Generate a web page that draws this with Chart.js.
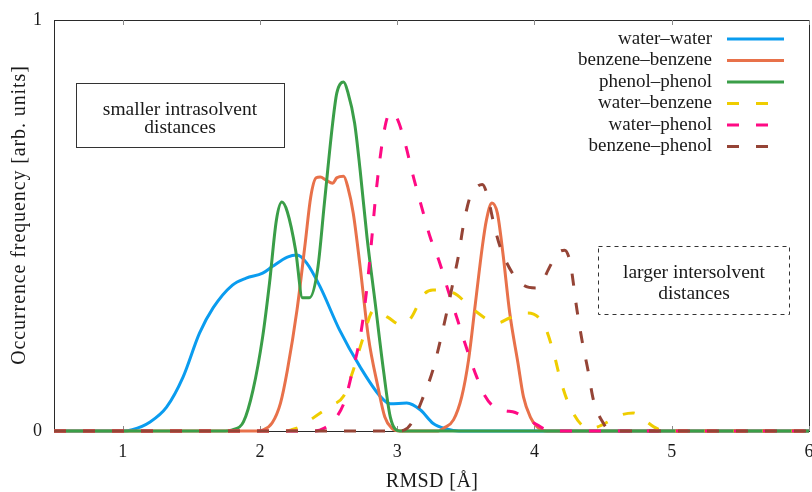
<!DOCTYPE html>
<html>
<head>
<meta charset="utf-8">
<script src="https://cdn.jsdelivr.net/npm/chart.js@4.4.1/dist/chart.umd.min.js"></script>
<style>
  html, body { margin: 0; padding: 0; background: #fff; }
  #wrap { width: 812px; height: 492px; }
</style>
</head>
<body>
<div id="wrap"><canvas id="rmsd"></canvas></div>
<script>
// RMSD distributions (x in Å, y in arbitrary units)
const rmsdWW = [0.5, 1.0, 1.07, 1.2, 1.32, 1.44, 1.56, 1.66, 1.8, 1.9, 2.02, 2.09, 2.2, 2.27, 2.34, 2.44, 2.58, 2.73, 2.88, 2.95, 3.07, 3.17, 3.26, 3.36, 3.45, 6];
const freqWW = [0, 0, 0.003, 0.022, 0.058, 0.131, 0.238, 0.3, 0.355, 0.372, 0.384, 0.4, 0.423, 0.428, 0.409, 0.35, 0.246, 0.156, 0.083, 0.066, 0.068, 0.051, 0.019, 0.005, 0, 0];

const rmsdBB = [0.5, 1.98, 2.02, 2.09, 2.15, 2.2, 2.27, 2.33, 2.37, 2.41, 2.44, 2.48, 2.53, 2.56, 2.61, 2.64, 2.68, 2.73, 2.79, 2.86, 2.91, 2.96, 3.02, 3.3, 3.34, 3.41, 3.47, 3.52, 3.57, 3.62, 3.65, 3.69, 3.73, 3.77, 3.82, 3.88, 3.92, 3.97, 4.02, 4.09, 6];
const freqBB = [0, 0, 0.002, 0.02, 0.068, 0.148, 0.294, 0.457, 0.569, 0.616, 0.618, 0.611, 0.603, 0.616, 0.62, 0.594, 0.53, 0.4, 0.229, 0.107, 0.034, 0.007, 0, 0, 0.007, 0.027, 0.083, 0.173, 0.311, 0.448, 0.513, 0.555, 0.53, 0.433, 0.287, 0.165, 0.083, 0.034, 0.01, 0, 0];

const rmsdPP = [0.5, 1.75, 1.8, 1.88, 1.95, 2.02, 2.07, 2.12, 2.16, 2.2, 2.26, 2.31, 2.36, 2.42, 2.47, 2.53, 2.56, 2.61, 2.64, 2.69, 2.73, 2.78, 2.84, 2.9, 2.95, 3.02, 6];
const freqPP = [0, 0, 0.003, 0.022, 0.1, 0.229, 0.36, 0.513, 0.557, 0.533, 0.44, 0.324, 0.324, 0.392, 0.555, 0.749, 0.822, 0.849, 0.825, 0.749, 0.635, 0.472, 0.311, 0.148, 0.034, 0, 0];

const rmsdWB = [0.5, 2.18, 2.23, 2.29, 2.44, 2.53, 2.61, 2.68, 2.75, 2.83, 2.93, 3.03, 3.1, 3.19, 3.26, 3.41, 3.56, 3.73, 3.82, 3.95, 4.07, 4.14, 4.19, 4.26, 4.39, 4.46, 4.55, 4.63, 4.72, 4.8, 4.87, 4.95, 6];
const freqWB = [0, 0, 0.003, 0.01, 0.044, 0.063, 0.085, 0.148, 0.225, 0.294, 0.277, 0.258, 0.275, 0.331, 0.343, 0.336, 0.294, 0.263, 0.275, 0.287, 0.258, 0.19, 0.124, 0.058, 0.007, 0.01, 0.025, 0.039, 0.044, 0.027, 0.01, 0, 0];

const rmsdWP = [0.5, 2.4, 2.47, 2.55, 2.62, 2.67, 2.72, 2.75, 2.78, 2.81, 2.84, 2.87, 2.9, 2.93, 2.96, 3.0, 3.05, 3.12, 3.18, 3.24, 3.31, 3.37, 3.44, 3.51, 3.58, 3.64, 3.7, 3.78, 3.86, 3.93, 4.02, 4.09, 4.15, 6];
const freqWP = [0, 0, 0.007, 0.03, 0.075, 0.14, 0.21, 0.27, 0.35, 0.45, 0.56, 0.65, 0.72, 0.765, 0.776, 0.76, 0.71, 0.616, 0.543, 0.472, 0.409, 0.343, 0.27, 0.197, 0.131, 0.085, 0.06, 0.05, 0.045, 0.032, 0.015, 0.002, 0, 0];

const rmsdBP = [0.5, 3.0, 3.05, 3.11, 3.19, 3.26, 3.31, 3.36, 3.41, 3.45, 3.48, 3.53, 3.58, 3.62, 3.66, 3.7, 3.75, 3.84, 3.92, 4.01, 4.06, 4.1, 4.17, 4.22, 4.26, 4.31, 4.35, 4.39, 4.43, 4.5, 4.55, 6];
const freqBP = [0, 0, 0.002, 0.022, 0.083, 0.148, 0.214, 0.287, 0.367, 0.433, 0.496, 0.569, 0.594, 0.6, 0.57, 0.51, 0.448, 0.384, 0.355, 0.348, 0.365, 0.392, 0.433, 0.44, 0.41, 0.294, 0.214, 0.148, 0.075, 0.02, 0, 0];

const seriesNames = ['water–water', 'benzene–benzene', 'phenol–phenol', 'water–benzene', 'water–phenol', 'benzene–phenol'];
const xTicks = [1, 2, 3, 4, 5, 6];
const yTicks = [0, 1];

const serif = "'Liberation Serif', 'Times New Roman', serif";
const colors = ['#0a9cef', '#e8714a', '#3a9e48', '#efcd00', '#ff0a84', '#954436'];
const dash = [12, 17];

const pairs = [[rmsdWW, freqWW], [rmsdBB, freqBB], [rmsdPP, freqPP], [rmsdWB, freqWB], [rmsdWP, freqWP], [rmsdBP, freqBP]];

const datasets = pairs.map(([xs, ys], i) => ({
  label: seriesNames[i],
  data: xs.map((x, k) => ({ x: x, y: ys[k] })),
  borderColor: colors[i],
  borderWidth: 3,
  borderDash: i >= 3 ? dash : [],
  pointRadius: 0,
  fill: false,
  cubicInterpolationMode: 'monotone',
  clip: false,
  order: 6 - i,
}));

// frame, inner ticks, legend, notes and axis titles
const decorations = {
  id: 'decorations',
  beforeDatasetsDraw(chart) {
    const { ctx, chartArea: a, scales } = chart;
    ctx.save();
    ctx.strokeStyle = '#2a2a2a';
    ctx.lineWidth = 1;
    ctx.strokeRect(a.left + 0.5, a.top + 0.5, a.right - a.left, a.bottom - a.top);
    ctx.strokeStyle = '#8a8a8a';
    xTicks.forEach((v) => {
      const px = Math.round(scales.x.getPixelForValue(v)) + 0.5;
      ctx.beginPath();
      ctx.moveTo(px, a.bottom);
      ctx.lineTo(px, a.bottom - 5);
      ctx.moveTo(px, a.top);
      ctx.lineTo(px, a.top + 5);
      ctx.stroke();
    });
    ctx.restore();
  },
  afterDraw(chart) {
    const { ctx } = chart;
    ctx.save();
    ctx.fillStyle = '#1a1a1a';
    ctx.font = '19px ' + serif;
    ctx.textBaseline = 'middle';

    // legend
    seriesNames.forEach((name, i) => {
      const y = 39 + i * 21.5;
      ctx.textAlign = 'right';
      ctx.fillStyle = '#1a1a1a';
      ctx.fillText(name, 712, y);
      ctx.strokeStyle = colors[i];
      ctx.lineWidth = 3;
      ctx.setLineDash(i >= 3 ? dash : []);
      ctx.beginPath();
      ctx.moveTo(727, y);
      ctx.lineTo(784, y);
      ctx.stroke();
    });
    ctx.setLineDash([]);

    // boxed notes
    ctx.strokeStyle = '#333';
    ctx.lineWidth = 1;
    ctx.strokeRect(76.5, 83.5, 208, 64);
    ctx.setLineDash([4, 4]);
    ctx.strokeRect(598.5, 246.5, 191, 68);
    ctx.setLineDash([]);
    ctx.textAlign = 'center';
    ctx.fillStyle = '#1a1a1a';
    ctx.font = '19.5px ' + serif;
    ctx.fillText('smaller intrasolvent', 180, 110);
    ctx.fillText('distances', 180, 128);
    ctx.fillText('larger intersolvent', 694, 273);
    ctx.fillText('distances', 694, 294);

    // axis titles
    ctx.font = '20px ' + serif;
    ctx.letterSpacing = '0.4px';
    ctx.fillText('RMSD [Å]', 432, 482);
    ctx.letterSpacing = '0.9px';
    ctx.translate(20, 215);
    ctx.rotate(-Math.PI / 2);
    ctx.fillText('Occurrence frequency [arb. units]', 0, 0);
    ctx.restore();
  },
};

new Chart(document.getElementById('rmsd'), {
  type: 'line',
  data: { datasets: datasets },
  options: {
    responsive: true,
    maintainAspectRatio: false,
    animation: false,
    events: [],
    layout: { padding: { top: 20, right: 3, left: 0, bottom: 0 } },
    plugins: { legend: { display: false }, tooltip: { enabled: false } },
    scales: {
      x: {
        type: 'linear',
        min: 0.5,
        max: 6,
        grid: { display: false, drawTicks: false },
        border: { display: false },
        afterBuildTicks: (scale) => { scale.ticks = xTicks.map((v) => ({ value: v })); },
        afterFit: (scale) => { scale.height = 61; scale.paddingLeft = 0; scale.paddingRight = 0; },
        ticks: { padding: 10, color: '#1a1a1a', font: { family: serif, size: 18 }, maxRotation: 0 },
      },
      y: {
        min: 0,
        max: 1,
        grid: { display: false, drawTicks: false },
        border: { display: false },
        afterBuildTicks: (scale) => { scale.ticks = yTicks.map((v) => ({ value: v })); },
        afterFit: (scale) => { scale.width = 54; scale.paddingTop = 0; scale.paddingBottom = 0; },
        ticks: { padding: 12, color: '#1a1a1a', font: { family: serif, size: 18 } },
      },
    },
  },
  plugins: [decorations],
});
</script>
</body>
</html>
